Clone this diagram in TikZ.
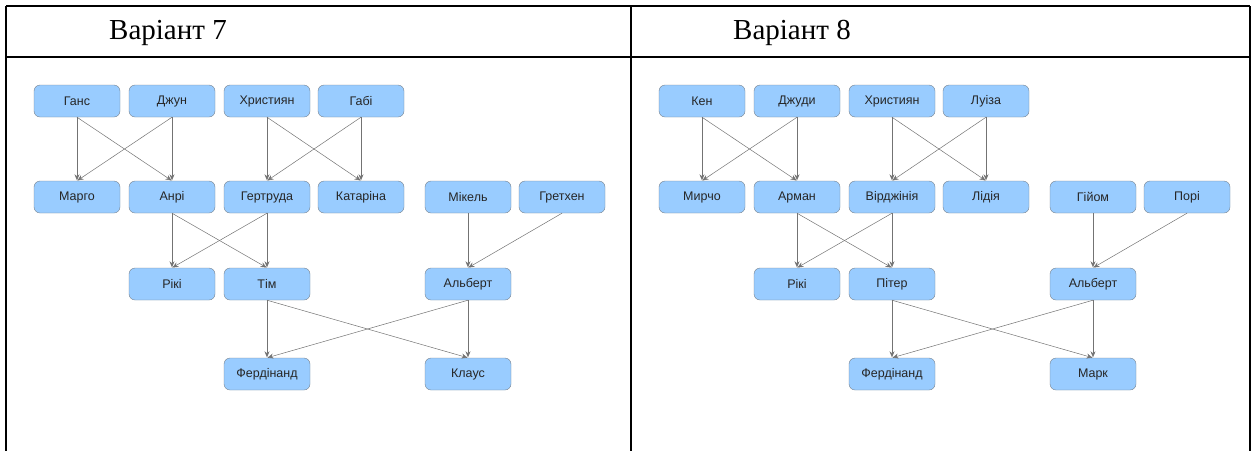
\documentclass[tikz,border=0pt]{standalone}
\usepackage{fontspec}
\setmainfont{Liberation Sans}
\newfontfamily\headfont{Liberation Serif}
\usetikzlibrary{arrows.meta}
\definecolor{boxblue}{RGB}{153,204,255}
\definecolor{boxline}{RGB}{120,130,140}
\begin{document}
\begin{tikzpicture}[x=1pt,y=-1pt,
	person/.style={draw=boxline, fill=boxblue, rounded corners=6pt, minimum width=86pt, minimum height=32pt, inner sep=0pt, text=black!85, font=\fontsize{12.5}{14}\selectfont},
	link/.style={draw=black!55, line width=0.5pt, -{Stealth[length=6pt,width=5pt]}, shorten >=0.5pt}]
	\newcommand{\myfonthead}[1]{
		\fontsize{29}{34}\headfont{#1}
	}
	\useasboundingbox (0,0) rectangle (1256,451);
	%Table
	\draw[line width=1.3pt] (6,6) -- (1250,6);
	\draw[line width=1.3pt] (6,57) -- (1250,57);
	\foreach \x in {6,631,1250} {
		\draw[line width=1.3pt] (\x,6) -- (\x,451);
	}
	\node (head7) at (168,33) {\myfonthead{Варіант 7}};
	\node (head8) at (792,33) {\myfonthead{Варіант 8}};
	%Variant 7
	%Row 1
	\node [person] (hans)    at (77,101)  {Ганс};
	\node [person] (djun)    at (172,101) {Джун};
	\node [person] (christ7) at (267,101) {Християн};
	\node [person] (gabi)    at (361,101) {Габі};
	%Row 2
	\node [person] (margo)   at (77,197)  {Марго};
	\node [person] (anri)    at (172,197) {Анрі};
	\node [person] (gertr)   at (267,197) {Гертруда};
	\node [person] (katar)   at (361,197) {Катаріна};
	\node [person] (mikel)   at (468,197) {Мікель};
	\node [person] (gretch)  at (562,197) {Гретхен};
	%Row 3
	\node [person] (riki7)   at (172,284) {Рікі};
	\node [person] (tim)     at (267,284) {Тім};
	\node [person] (albert7) at (468,284) {Альберт};
	%Row 4
	\node [person] (ferd7)   at (267,374) {Фердінанд};
	\node [person] (klaus)   at (468,374) {Клаус};
	%Arrows
	\draw [link] (hans.south) -- (margo.north);
	\draw [link] (hans.south) -- (anri.north);
	\draw [link] (djun.south) -- (anri.north);
	\draw [link] (djun.south) -- (margo.north);
	\draw [link] (christ7.south) -- (gertr.north);
	\draw [link] (christ7.south) -- (katar.north);
	\draw [link] (gabi.south) -- (katar.north);
	\draw [link] (gabi.south) -- (gertr.north);
	\draw [link] (anri.south) -- (riki7.north);
	\draw [link] (anri.south) -- (tim.north);
	\draw [link] (gertr.south) -- (tim.north);
	\draw [link] (gertr.south) -- (riki7.north);
	\draw [link] (mikel.south) -- (albert7.north);
	\draw [link] (gretch.south) -- (albert7.north);
	\draw [link] (tim.south) -- (ferd7.north);
	\draw [link] (tim.south) -- (klaus.north);
	\draw [link] (albert7.south) -- (klaus.north);
	\draw [link] (albert7.south) -- (ferd7.north);
	%Variant 8
	%Row 1
	\node [person] (ken)     at (702,101)  {Кен};
	\node [person] (djudi)   at (797,101)  {Джуди};
	\node [person] (christ8) at (892,101)  {Християн};
	\node [person] (luiza)   at (986,101)  {Луіза};
	%Row 2
	\node [person] (mircho)  at (702,197)  {Мирчо};
	\node [person] (arman)   at (797,197)  {Арман};
	\node [person] (virdj)   at (892,197)  {Вірджінія};
	\node [person] (lidia)   at (986,197)  {Лідія};
	\node [person] (giyom)   at (1093,197) {Гійом};
	\node [person] (pori)    at (1187,197) {Порі};
	%Row 3
	\node [person] (riki8)   at (797,284)  {Рікі};
	\node [person] (piter)   at (892,284)  {Пітер};
	\node [person] (albert8) at (1093,284) {Альберт};
	%Row 4
	\node [person] (ferd8)   at (892,374)  {Фердінанд};
	\node [person] (mark)    at (1093,374) {Марк};
	%Arrows
	\draw [link] (ken.south) -- (mircho.north);
	\draw [link] (ken.south) -- (arman.north);
	\draw [link] (djudi.south) -- (arman.north);
	\draw [link] (djudi.south) -- (mircho.north);
	\draw [link] (christ8.south) -- (virdj.north);
	\draw [link] (christ8.south) -- (lidia.north);
	\draw [link] (luiza.south) -- (lidia.north);
	\draw [link] (luiza.south) -- (virdj.north);
	\draw [link] (arman.south) -- (riki8.north);
	\draw [link] (arman.south) -- (piter.north);
	\draw [link] (virdj.south) -- (piter.north);
	\draw [link] (virdj.south) -- (riki8.north);
	\draw [link] (giyom.south) -- (albert8.north);
	\draw [link] (pori.south) -- (albert8.north);
	\draw [link] (piter.south) -- (ferd8.north);
	\draw [link] (piter.south) -- (mark.north);
	\draw [link] (albert8.south) -- (mark.north);
	\draw [link] (albert8.south) -- (ferd8.north);
\end{tikzpicture}
\end{document}
